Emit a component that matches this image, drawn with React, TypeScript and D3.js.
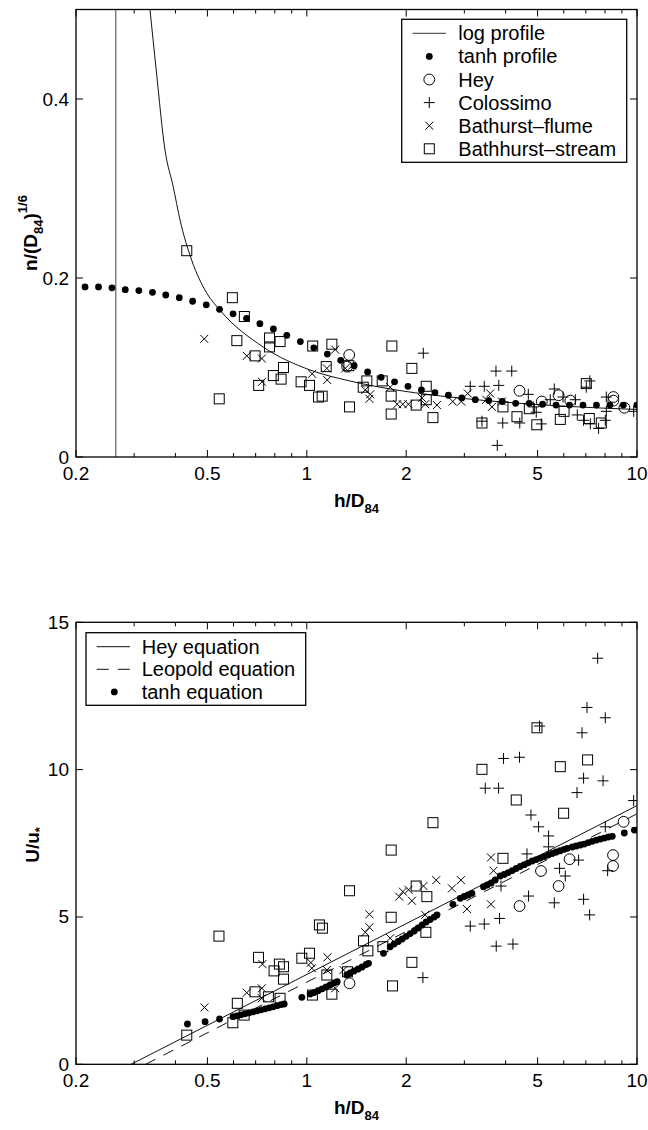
import React from 'react';
import * as d3 from 'd3';

const FONT = '"Liberation Sans", Arial, Helvetica, sans-serif';

// ---------- shared axis data ----------
const xDomain: [number, number] = [0.2, 10];
const xMajorTicks = [0.2, 0.5, 1, 2, 5, 10];
const xTickLabels = ['0.2', '0.5', '1', '2', '5', '10'];
const xMinorTicks = [0.3, 0.4, 0.6, 0.7, 0.8, 0.9, 3, 4, 6, 7, 8, 9];

const topYDomain: [number, number] = [0, 0.5];
const topYTicks = [0, 0.2, 0.4];
const topYTickLabels = ['0', '0.2', '0.4'];

const bottomYDomain: [number, number] = [0, 15];
const bottomYTicks = [0, 5, 10, 15];
const bottomYTickLabels = ['0', '5', '10', '15'];

// ---------- top panel data ----------
const logProfileAsymptote: [number, number][] = [[0.264, 0], [0.264, 0.5]];
const logProfile: [number, number][] = [
  [0.335, 0.5], [0.350, 0.432], [0.372, 0.343], [0.394, 0.302], [0.413, 0.265], [0.448, 0.220],
  [0.498, 0.183], [0.546, 0.164], [0.737, 0.123], [1.023, 0.0972], [1.352, 0.0849], [1.789, 0.076],
  [2.54, 0.0682], [3.594, 0.0626], [5.858, 0.057], [10, 0.0531],
];
const tanhProfile: [number, number][] = [
  [0.213, 0.190], [0.234, 0.190], [0.257, 0.189], [0.282, 0.187], [0.310, 0.186], [0.341, 0.184],
  [0.374, 0.181], [0.411, 0.178], [0.451, 0.174], [0.496, 0.170], [0.544, 0.165], [0.598, 0.160],
  [0.657, 0.155], [0.721, 0.149], [0.792, 0.143], [0.870, 0.136], [0.956, 0.129], [1.050, 0.122],
  [1.154, 0.115], [1.267, 0.108], [1.391, 0.102], [1.528, 0.095], [1.679, 0.089], [1.844, 0.084],
  [2.025, 0.079], [2.224, 0.075], [2.444, 0.072], [2.684, 0.069], [2.948, 0.066], [3.238, 0.064],
  [3.557, 0.063], [3.907, 0.062], [4.291, 0.060], [4.715, 0.060], [5.176, 0.059], [5.687, 0.058],
  [6.245, 0.058], [6.861, 0.058], [7.537, 0.058], [8.278, 0.058], [9.093, 0.058], [9.987, 0.058],
];
const heyTop: [number, number][] = [
  [1.344, 0.114], [1.325, 0.101], [4.408, 0.074], [5.148, 0.062], [5.788, 0.069], [6.282, 0.063],
  [8.48, 0.067], [8.48, 0.063], [9.156, 0.055],
];
const colossimoTop: [number, number][] = [
  [2.253, 0.116], [3.126, 0.079], [3.447, 0.079], [3.740, 0.096], [4.175, 0.096], [3.814, 0.080],
  [4.686, 0.070], [5.617, 0.076], [7.196, 0.085], [7.022, 0.078], [8.074, 0.067], [3.392, 0.040],
  [3.921, 0.038], [4.415, 0.038], [3.774, 0.013], [4.850, 0.056], [4.953, 0.050], [5.130, 0.037],
  [5.970, 0.067], [6.594, 0.047], [6.890, 0.041], [7.222, 0.037], [7.650, 0.032], [8.018, 0.041],
  [8.074, 0.051], [9.770, 0.051], [6.504, 0.064], [5.462, 0.064],
];
const bathurstFlumeTop: [number, number][] = [
  [0.489, 0.132], [0.658, 0.113], [0.731, 0.110], [0.732, 0.084], [1.038, 0.093], [1.150, 0.099],
  [1.153, 0.086], [1.219, 0.120], [1.307, 0.099], [1.372, 0.102], [1.503, 0.075], [1.556, 0.070],
  [1.548, 0.065], [1.789, 0.078], [1.878, 0.059], [1.952, 0.059], [2.032, 0.059], [2.232, 0.066],
  [2.284, 0.059], [2.478, 0.058], [2.767, 0.062], [2.936, 0.062], [3.072, 0.071], [3.594, 0.071],
  [3.637, 0.056], [3.899, 0.062], [3.496, 0.064],
];
const bathurstStreamTop: [number, number][] = [
  [0.433, 0.2305], [0.595, 0.178], [0.647, 0.157], [0.614, 0.130], [0.771, 0.133], [0.771, 0.123],
  [0.830, 0.129], [0.697, 0.113], [0.850, 0.100], [0.792, 0.091], [0.836, 0.087], [0.715, 0.080],
  [0.961, 0.084], [1.019, 0.080], [0.543, 0.065], [1.085, 0.067], [1.113, 0.068], [1.042, 0.124],
  [1.191, 0.126], [1.145, 0.101], [1.341, 0.102], [1.520, 0.085], [1.482, 0.078], [1.810, 0.124],
  [1.692, 0.085], [1.801, 0.068], [1.801, 0.048], [2.081, 0.099], [2.144, 0.058], [2.300, 0.079],
  [2.300, 0.064], [2.410, 0.044], [1.347, 0.056], [3.392, 0.038], [3.927, 0.056], [4.330, 0.045],
  [4.973, 0.036], [4.720, 0.054], [5.858, 0.042], [6.012, 0.051], [7.170, 0.043], [7.022, 0.082],
  [7.796, 0.038],
];
const topLegendLabels = ['log profile', 'tanh profile', 'Hey', 'Colossimo', 'Bathurst\u2013flume', 'Bathhurst\u2013stream'];

// ---------- bottom panel data ----------
const heyEquation: [number, number][] = [[0.2937, 0], [10, 8.78]];
const leopoldEquation: [number, number][] = [[0.325, 0], [10, 8.5]];
const tanhEquation: [number, number][] = [
  [0.435, 1.368], [0.492, 1.446], [0.544, 1.537], [0.598, 1.615], [0.615, 1.646], [0.632, 1.680],
  [0.650, 1.714], [0.669, 1.748], [0.688, 1.781], [0.707, 1.815], [0.727, 1.849], [0.748, 1.883],
  [0.769, 1.917], [0.791, 1.951], [0.813, 1.988], [0.836, 2.026], [0.854, 2.046], [0.966, 2.273],
  [1.024, 2.385], [1.052, 2.436], [1.082, 2.497], [1.113, 2.562], [1.145, 2.623], [1.177, 2.691],
  [1.210, 2.759], [1.236, 2.803], [1.322, 3.030], [1.353, 3.098], [1.391, 3.166], [1.431, 3.234],
  [1.471, 3.302], [1.513, 3.387], [1.538, 3.427], [1.707, 3.767], [1.789, 3.990], [1.839, 4.082],
  [1.892, 4.167], [1.945, 4.252], [2.0, 4.343], [2.057, 4.435], [2.115, 4.523], [2.175, 4.625],
  [2.236, 4.727], [2.299, 4.829], [2.364, 4.914], [2.431, 4.998], [2.478, 5.066], [2.770, 5.429],
  [2.915, 5.633], [2.998, 5.694], [3.083, 5.745], [3.163, 5.802], [3.429, 6.026], [3.519, 6.084],
  [3.619, 6.152], [3.722, 6.254], [3.854, 6.390], [3.963, 6.441], [4.075, 6.508], [4.190, 6.576],
  [4.309, 6.644], [4.431, 6.712], [4.556, 6.773], [4.685, 6.837], [4.818, 6.899], [4.954, 6.949],
  [5.095, 7.000], [5.239, 7.051], [5.387, 7.102], [5.539, 7.153], [5.696, 7.204], [5.858, 7.248],
  [6.023, 7.296], [6.151, 7.330], [6.369, 7.374], [6.550, 7.408], [6.735, 7.442], [6.925, 7.475],
  [7.121, 7.526], [7.321, 7.567], [7.532, 7.611], [7.744, 7.645], [7.962, 7.679], [8.188, 7.713],
  [8.418, 7.737], [9.154, 7.85], [9.817, 7.95],
];
const heyBottom: [number, number][] = [
  [9.110, 8.23], [8.461, 7.10], [8.461, 6.73], [6.249, 6.96], [5.120, 6.56], [5.788, 6.05],
  [4.408, 5.37], [1.347, 2.75],
];
const colossimoBottom: [number, number][] = [
  [7.600, 13.78], [7.057, 12.11], [8.017, 11.76], [6.815, 11.25], [5.069, 11.48], [3.943, 10.38],
  [4.408, 10.42], [6.890, 9.71], [7.891, 9.62], [6.581, 9.22], [3.471, 9.37], [3.809, 9.37],
  [9.770, 8.95], [4.774, 8.46], [5.034, 8.06], [5.398, 7.75], [5.398, 7.38], [8.017, 8.06],
  [4.643, 7.14], [5.828, 6.65], [6.655, 6.93], [6.065, 6.39], [8.148, 6.57], [4.695, 5.71],
  [5.617, 5.48], [6.890, 5.60], [7.187, 5.07], [3.447, 4.76], [3.835, 4.95], [3.747, 4.01],
  [4.210, 4.08], [3.126, 4.69], [3.873, 6.05], [2.247, 2.94],
];
const bathurstFlumeBottom: [number, number][] = [
  [0.490, 1.93], [0.734, 3.40], [0.658, 2.43], [0.731, 2.58], [0.731, 2.24], [1.029, 3.45],
  [1.036, 3.26], [1.155, 3.63], [1.150, 3.20], [1.219, 2.58], [1.291, 3.20], [1.548, 5.09],
  [1.548, 4.65], [1.503, 4.48], [1.905, 5.69], [1.954, 5.86], [2.033, 5.92], [2.081, 5.55],
  [2.256, 6.05], [2.466, 6.25], [2.751, 5.97], [2.930, 6.25], [3.055, 5.27], [3.612, 7.02],
  [3.677, 6.57], [3.612, 5.43], [1.789, 4.28], [2.283, 5.07],
];
const bathurstStreamBottom: [number, number][] = [
  [0.542, 4.35], [0.714, 3.63], [0.826, 3.40], [0.850, 3.31], [0.796, 3.17], [0.850, 2.89],
  [0.966, 3.60], [1.019, 3.77], [1.092, 4.73], [1.115, 4.62], [0.697, 2.46], [0.616, 2.07],
  [0.765, 2.29], [0.830, 2.24], [0.597, 1.41], [0.646, 1.67], [0.433, 0.99], [1.150, 3.03],
  [1.191, 2.38], [1.040, 2.35], [2.410, 8.20], [1.801, 7.27], [1.347, 5.89], [1.801, 4.99],
  [2.144, 6.05], [2.310, 5.69], [2.294, 4.48], [1.485, 4.19], [1.531, 3.85], [1.700, 3.99],
  [2.081, 3.46], [1.818, 2.66], [1.328, 3.14], [4.979, 11.42], [5.858, 10.10], [7.086, 10.33],
  [3.392, 10.01], [4.309, 8.97], [5.995, 8.52], [3.927, 6.99],
];
const bottomLegendLabels = ['Hey equation', 'Leopold equation', 'tanh equation'];

// ---------- geometry ----------
const PLOT_LEFT = 76;
const PLOT_RIGHT = 637;
const TOP_PANEL: [number, number] = [457, 9.5];
const BOTTOM_PANEL: [number, number] = [1064.3, 622.3];

type MarkerType = 'dot' | 'circle' | 'plus' | 'x' | 'square';

function Marker({ type, cx, cy }: { type: MarkerType; cx: number; cy: number }) {
  const s = '#000';
  switch (type) {
    case 'dot':
      return <circle cx={cx} cy={cy} r={3.4} fill="#000" />;
    case 'circle':
      return <circle cx={cx} cy={cy} r={5.4} fill="none" stroke={s} strokeWidth={1} />;
    case 'plus':
      return <path d={`M${cx - 5.5},${cy}H${cx + 5.5}M${cx},${cy - 5.5}V${cy + 5.5}`} stroke={s} strokeWidth={1} />;
    case 'x':
      return <path d={`M${cx - 4},${cy - 4}L${cx + 4},${cy + 4}M${cx - 4},${cy + 4}L${cx + 4},${cy - 4}`} stroke={s} strokeWidth={1} />;
    case 'square':
      return <rect x={cx - 5} y={cy - 5} width={10} height={10} fill="none" stroke={s} strokeWidth={1} />;
  }
  return null;
}

function Series({ data, type, x, y }: { data: [number, number][]; type: MarkerType; x: any; y: any }) {
  return (
    <g>
      {data.map((d, i) => (
        <Marker key={i} type={type} cx={x(d[0])} cy={y(d[1])} />
      ))}
    </g>
  );
}

function Axes({ x, y, yTicks, yLabels }: { x: any; y: any; yTicks: number[]; yLabels: string[] }) {
  const [x0, x1] = x.range();
  const [yb, yt] = y.range();
  const major = 7;
  const minor = 4;
  return (
    <g stroke="#000" strokeWidth={1}>
      {xMajorTicks.map((t) => (
        <g key={'xm' + t}>
          <line x1={x(t)} x2={x(t)} y1={yb} y2={yb - major} />
          <line x1={x(t)} x2={x(t)} y1={yt} y2={yt + major} />
        </g>
      ))}
      {xMinorTicks.map((t) => (
        <g key={'xn' + t}>
          <line x1={x(t)} x2={x(t)} y1={yb} y2={yb - minor} />
          <line x1={x(t)} x2={x(t)} y1={yt} y2={yt + minor} />
        </g>
      ))}
      {yTicks.map((t) => (
        <g key={'y' + t}>
          <line x1={x0} x2={x0 + major} y1={y(t)} y2={y(t)} />
          <line x1={x1} x2={x1 - major} y1={y(t)} y2={y(t)} />
        </g>
      ))}
      <rect x={x0} y={yt} width={x1 - x0} height={yb - yt} fill="none" strokeWidth={1.3} />
      <g stroke="none" fill="#000" fontFamily={FONT} fontSize={19}>
        {xMajorTicks.map((t, i) => (
          <text key={'xl' + t} x={x(t)} y={yb + 23} textAnchor="middle">
            {xTickLabels[i]}
          </text>
        ))}
        {yTicks.map((t, i) => (
          <text key={'yl' + t} x={x0 - 7} y={y(t) + 6.5} textAnchor="end">
            {yLabels[i]}
          </text>
        ))}
        <text x={(x0 + x1) / 2} y={yb + 50} textAnchor="middle" fontWeight="bold">
          h/D
          <tspan fontSize={13} dy={6}>
            84
          </tspan>
        </text>
      </g>
    </g>
  );
}

export default function App() {
  const x = d3.scaleLog().domain(xDomain).range([PLOT_LEFT, PLOT_RIGHT]);
  const yTop = d3.scaleLinear().domain(topYDomain).range(TOP_PANEL);
  const yBot = d3.scaleLinear().domain(bottomYDomain).range(BOTTOM_PANEL);

  const lineTop = d3
    .line<[number, number]>()
    .x((d) => x(d[0]))
    .y((d) => yTop(d[1]))
    .curve(d3.curveMonotoneX);
  const lineTopStraight = d3
    .line<[number, number]>()
    .x((d) => x(d[0]))
    .y((d) => yTop(d[1]));
  const lineBot = d3
    .line<[number, number]>()
    .x((d) => x(d[0]))
    .y((d) => yBot(d[1]));

  // legend geometry
  const tl = { x: 401.7, y: 19.3, w: 225, h: 143, row0: 33.3, dy: 23.1, sx0: 412.7, sx1: 446, mx: 429.3, tx: 458.3 };
  const bl = { x: 86, y: 632.7, w: 219.7, h: 72.6, row0: 646.7, dy: 22.6, sx0: 96.7, sx1: 130, mx: 114.3, tx: 141.7 };
  const topLegendTypes: (MarkerType | 'line')[] = ['line', 'dot', 'circle', 'plus', 'x', 'square'];

  return (
    <svg
      width={648}
      height={1130}
      viewBox="0 0 648 1130"
      style={{ position: 'absolute', left: 0, top: 0, background: '#fff' }}
    >
      <defs>
        <clipPath id="clipTop">
          <rect x={PLOT_LEFT} y={TOP_PANEL[1]} width={PLOT_RIGHT - PLOT_LEFT} height={TOP_PANEL[0] - TOP_PANEL[1]} />
        </clipPath>
        <clipPath id="clipBot">
          <rect x={PLOT_LEFT} y={BOTTOM_PANEL[1]} width={PLOT_RIGHT - PLOT_LEFT} height={BOTTOM_PANEL[0] - BOTTOM_PANEL[1]} />
        </clipPath>
      </defs>
      <rect x={0} y={0} width={648} height={1130} fill="#fff" />

      {/* ---------------- TOP PANEL ---------------- */}
      <g clipPath="url(#clipTop)">
        <path d={lineTopStraight(logProfileAsymptote) || ''} fill="none" stroke="#444" strokeWidth={1} />
        <path d={lineTop(logProfile) || ''} fill="none" stroke="#111" strokeWidth={1} />
        <Series data={bathurstStreamTop} type="square" x={x} y={yTop} />
        <Series data={bathurstFlumeTop} type="x" x={x} y={yTop} />
        <Series data={colossimoTop} type="plus" x={x} y={yTop} />
        <Series data={heyTop} type="circle" x={x} y={yTop} />
        <Series data={tanhProfile} type="dot" x={x} y={yTop} />
      </g>
      <Axes x={x} y={yTop} yTicks={topYTicks} yLabels={topYTickLabels} />
      <text
        transform="translate(37,233) rotate(-90)"
        textAnchor="middle"
        fontFamily={FONT}
        fontSize={19}
        fontWeight="bold"
      >
        n/(D
        <tspan fontSize={13} dy={6}>
          84
        </tspan>
        <tspan dy={-6}>)</tspan>
        <tspan fontSize={13} dy={-10}>
          1/6
        </tspan>
      </text>
      {/* top legend */}
      <g>
        <rect x={tl.x} y={tl.y} width={tl.w} height={tl.h} fill="#fff" stroke="#000" strokeWidth={1.3} />
        {topLegendLabels.map((lab, i) => {
          const cy = tl.row0 + i * tl.dy;
          const t = topLegendTypes[i];
          return (
            <g key={lab}>
              {t === 'line' ? (
                <line x1={tl.sx0} x2={tl.sx1} y1={cy} y2={cy} stroke="#333" strokeWidth={1} />
              ) : (
                <Marker type={t} cx={tl.mx} cy={cy} />
              )}
              <text x={tl.tx} y={cy + 7} fontFamily={FONT} fontSize={20}>
                {lab}
              </text>
            </g>
          );
        })}
      </g>

      {/* ---------------- BOTTOM PANEL ---------------- */}
      <g clipPath="url(#clipBot)">
        <path d={lineBot(heyEquation) || ''} fill="none" stroke="#111" strokeWidth={1} />
        <path d={lineBot(leopoldEquation) || ''} fill="none" stroke="#111" strokeWidth={1} strokeDasharray="11,9" />
        <Series data={bathurstStreamBottom} type="square" x={x} y={yBot} />
        <Series data={bathurstFlumeBottom} type="x" x={x} y={yBot} />
        <Series data={colossimoBottom} type="plus" x={x} y={yBot} />
        <Series data={heyBottom} type="circle" x={x} y={yBot} />
        <Series data={tanhEquation} type="dot" x={x} y={yBot} />
      </g>
      <Axes x={x} y={yBot} yTicks={bottomYTicks} yLabels={bottomYTickLabels} />
      <text
        transform="translate(39,845) rotate(-90)"
        textAnchor="middle"
        fontFamily={FONT}
        fontSize={19}
        fontWeight="bold"
      >
        U/u
        <tspan fontSize={13} dy={5}>
          *
        </tspan>
      </text>
      {/* bottom legend */}
      <g>
        <rect x={bl.x} y={bl.y} width={bl.w} height={bl.h} fill="#fff" stroke="#000" strokeWidth={1.3} />
        {bottomLegendLabels.map((lab, i) => {
          const cy = bl.row0 + i * bl.dy;
          return (
            <g key={lab}>
              {i === 0 && <line x1={bl.sx0} x2={bl.sx1} y1={cy} y2={cy} stroke="#111" strokeWidth={1} />}
              {i === 1 && (
                <line x1={bl.sx0} x2={bl.sx1} y1={cy} y2={cy} stroke="#111" strokeWidth={1} strokeDasharray="12,9" />
              )}
              {i === 2 && <Marker type="dot" cx={bl.mx} cy={cy} />}
              <text x={bl.tx} y={cy + 7} fontFamily={FONT} fontSize={20}>
                {lab}
              </text>
            </g>
          );
        })}
      </g>
    </svg>
  );
}
